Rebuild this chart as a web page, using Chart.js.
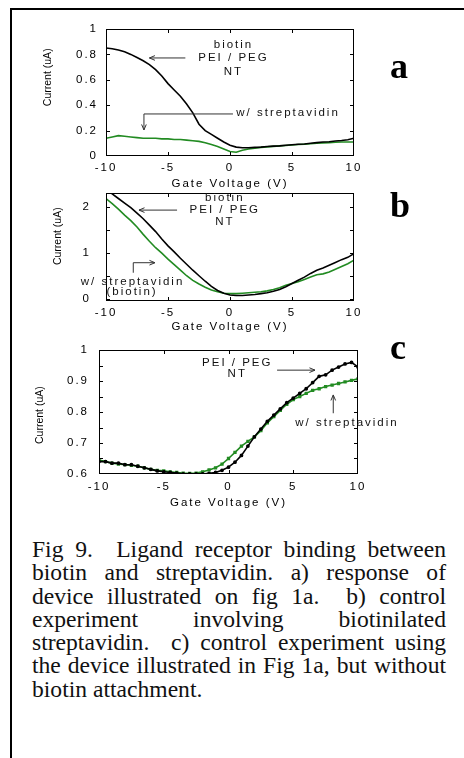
<!DOCTYPE html>
<html>
<head>
<meta charset="utf-8">
<script src="https://cdn.jsdelivr.net/npm/chart.js@4.4.0/dist/chart.umd.min.js"></script>
<style>
  body { margin: 0; background: #fff; width: 464px; height: 758px; position: relative; overflow: hidden; }
  canvas { position: absolute; left: 0; }
  .frameTop { position: absolute; left: 10px; top: 8px; width: 454px; border-top: 2px solid #000; }
  .frameLeft { position: absolute; left: 10px; top: 8px; height: 750px; border-left: 2px solid #000; }
  .tag { position: absolute; left: 390px; font: bold 36px/36px 'Liberation Serif', 'Times New Roman', serif; color: #000; }
  .caption { position: absolute; left: 32px; top: 538px; width: 414px; font-family: 'Liberation Serif', 'Times New Roman', serif; font-size: 23.6px; line-height: 23.3px; color: #111; }
  .caption div { text-align: justify; text-align-last: justify; height: 23.3px; }
  .caption div.last { text-align: left; text-align-last: left; }
</style>
</head>
<body>
<div class="frameTop"></div>
<div class="frameLeft"></div>

<canvas id="chartA" width="464" height="186" style="top:14px"></canvas>
<canvas id="chartB" width="464" height="152" style="top:183px"></canvas>
<canvas id="chartC" width="464" height="176" style="top:335px"></canvas>

<div class="tag" style="top:48px">a</div>
<div class="tag" style="top:186.5px">b</div>
<div class="tag" style="top:329px">c</div>

<div class="caption">
  <div>Fig 9.&nbsp; Ligand receptor binding between</div>
  <div>biotin and streptavidin. a) response of</div>
  <div>device illustrated on fig 1a.&nbsp; b) control</div>
  <div>experiment involving biotinilated</div>
  <div>streptavidin.&nbsp; c) control experiment using</div>
  <div>the device illustrated in Fig 1a, but without</div>
  <div class="last">biotin attachment.</div>
</div>

<script>
// gate voltage sweep (V)
const volts = [-10, -9.5, -9, -8.5, -8, -7.5, -7, -6.5, -6, -5.5, -5, -4.5, -4, -3.5, -3, -2.5, -2, -1.5, -1, -0.5,
  0, 0.5, 1, 1.5, 2, 2.5, 3, 3.5, 4, 4.5, 5, 5.5, 6, 6.5, 7, 7.5, 8, 8.5, 9, 9.5, 10];

// panel a: biotin / PEI / PEG / NT vs. with streptavidin (uA)
const a_biotin = [0.85, 0.845, 0.835, 0.82, 0.80, 0.775, 0.75, 0.72, 0.68, 0.63, 0.57, 0.52, 0.47, 0.41, 0.34, 0.25, 0.20, 0.17, 0.14, 0.11,
  0.085, 0.07, 0.065, 0.065, 0.068, 0.07, 0.075, 0.078, 0.08, 0.085, 0.088, 0.092, 0.095, 0.10, 0.105, 0.11, 0.112, 0.118, 0.122, 0.128, 0.14];
const a_strep = [0.14, 0.15, 0.16, 0.155, 0.15, 0.145, 0.14, 0.14, 0.14, 0.135, 0.135, 0.13, 0.13, 0.125, 0.12, 0.115, 0.105, 0.09, 0.075, 0.055,
  0.035, 0.03, 0.045, 0.055, 0.062, 0.068, 0.072, 0.076, 0.08, 0.083, 0.087, 0.09, 0.093, 0.097, 0.10, 0.103, 0.105, 0.108, 0.11, 0.11, 0.11];

// panel b: control, biotinilated streptavidin (uA)
const b_biotin = [2.40, 2.28, 2.18, 2.08, 1.98, 1.86, 1.74, 1.60, 1.46, 1.30, 1.15, 1.02, 0.88, 0.75, 0.62, 0.50, 0.38, 0.27, 0.18, 0.12,
  0.08, 0.07, 0.07, 0.08, 0.09, 0.11, 0.13, 0.16, 0.20, 0.26, 0.33, 0.40, 0.47, 0.55, 0.62, 0.67, 0.73, 0.79, 0.85, 0.90, 0.98];
const b_strep = [2.18, 2.07, 1.95, 1.82, 1.70, 1.56, 1.40, 1.25, 1.11, 0.99, 0.86, 0.74, 0.62, 0.50, 0.40, 0.32, 0.25, 0.19, 0.15, 0.12,
  0.11, 0.11, 0.12, 0.13, 0.14, 0.15, 0.17, 0.20, 0.24, 0.29, 0.33, 0.37, 0.42, 0.47, 0.52, 0.54, 0.58, 0.64, 0.70, 0.76, 0.84];

// panel c: PEI / PEG / NT without biotin (uA)
const c_nt = [0.64, 0.64, 0.635, 0.635, 0.63, 0.63, 0.625, 0.62, 0.615, 0.61, 0.607, 0.605, 0.603, 0.60, 0.60, 0.60, 0.60, 0.602, 0.605, 0.612,
  0.622, 0.638, 0.66, 0.69, 0.72, 0.745, 0.77, 0.79, 0.81, 0.83, 0.845, 0.86, 0.875, 0.895, 0.915, 0.92, 0.935, 0.945, 0.955, 0.96, 0.945];
const c_strep = [0.645, 0.64, 0.635, 0.632, 0.63, 0.628, 0.625, 0.62, 0.615, 0.612, 0.61, 0.607, 0.605, 0.603, 0.602, 0.603, 0.607, 0.613, 0.62, 0.632,
  0.65, 0.67, 0.69, 0.705, 0.72, 0.74, 0.765, 0.785, 0.805, 0.825, 0.84, 0.85, 0.86, 0.87, 0.875, 0.882, 0.887, 0.892, 0.897, 0.902, 0.907];

// axis ticks
const xTicks = [-10, -5, 0, 5, 10];
const aTicks = [0, 0.2, 0.4, 0.6, 0.8, 1];
const bTicks = [0, 0.5, 1, 1.5, 2];
const cTicks = [0.6, 0.65, 0.7, 0.75, 0.8, 0.85, 0.9, 0.95, 1];

const SANS = "'Liberation Sans', Arial, Helvetica, sans-serif";
const GREEN = '#228b22';

Chart.defaults.color = '#000';
Chart.defaults.font.family = SANS;
Chart.defaults.font.size = 11.5;

function pts(ys) {
  return volts.map((v, i) => ({ x: v, y: ys[i] }));
}

function roundLabel(v) {
  return String(Math.round(v * 10) / 10);
}

// box, inward ticks, y title, notes and arrows
const panelDecor = {
  id: 'panelDecor',
  beforeDraw(chart) {
    chart.ctx.letterSpacing = '2px';
  },
  afterDraw(chart, args, opts) {
    const { ctx, chartArea: a, scales: { x, y } } = chart;
    ctx.save();
    ctx.strokeStyle = '#000';
    ctx.lineWidth = 1;
    ctx.strokeRect(a.left + 0.5, a.top + 0.5, a.right - a.left - 1, a.bottom - a.top - 1);

    ctx.beginPath();
    x.ticks.forEach(t => {
      if (t.value <= x.min || t.value >= x.max) return;
      const px = Math.round(x.getPixelForValue(t.value)) + 0.5;
      ctx.moveTo(px, a.top); ctx.lineTo(px, a.top + 4);
      ctx.moveTo(px, a.bottom); ctx.lineTo(px, a.bottom - 4);
    });
    y.ticks.forEach(t => {
      if (t.value <= y.min || t.value >= y.max) return;
      const py = Math.round(y.getPixelForValue(t.value)) + 0.5;
      ctx.moveTo(a.left, py); ctx.lineTo(a.left + 4, py);
      ctx.moveTo(a.right, py); ctx.lineTo(a.right - 4, py);
    });
    ctx.stroke();

    // y axis title, narrow face, no spacing
    ctx.save();
    ctx.letterSpacing = '0px';
    ctx.font = "10.5px 'Liberation Sans Narrow', 'Arial Narrow', " + SANS;
    ctx.fillStyle = '#000';
    ctx.translate(opts.titleX, y.getPixelForValue(opts.titleAt));
    ctx.rotate(-Math.PI / 2);
    ctx.textAlign = 'center';
    ctx.textBaseline = 'middle';
    ctx.fillText('Current (uA)', 0, 0);
    ctx.restore();

    // notes
    ctx.letterSpacing = '2px';
    ctx.font = '11.5px ' + SANS;
    ctx.fillStyle = '#111';
    ctx.textAlign = 'center';
    ctx.textBaseline = 'middle';
    opts.notes.forEach(n => {
      ctx.fillText(n.text, x.getPixelForValue(n.x) + 1, y.getPixelForValue(n.y));
    });

    // arrows (head at last point)
    ctx.strokeStyle = '#333';
    opts.arrows.forEach(path => {
      const p = path.map(q => [x.getPixelForValue(q[0]), y.getPixelForValue(q[1])]);
      ctx.beginPath();
      ctx.moveTo(p[0][0], p[0][1]);
      for (let i = 1; i < p.length; i++) ctx.lineTo(p[i][0], p[i][1]);
      const [x1, y1] = p[p.length - 2];
      const [x2, y2] = p[p.length - 1];
      const ang = Math.atan2(y2 - y1, x2 - x1);
      ctx.moveTo(x2, y2);
      ctx.lineTo(x2 - 6 * Math.cos(ang - 0.4), y2 - 6 * Math.sin(ang - 0.4));
      ctx.moveTo(x2, y2);
      ctx.lineTo(x2 - 6 * Math.cos(ang + 0.4), y2 - 6 * Math.sin(ang + 0.4));
      ctx.stroke();
    });
    ctx.restore();
  }
};

function makePanel(id, black, green, cfg) {
  return new Chart(document.getElementById(id), {
    type: 'line',
    data: {
      datasets: [{
        label: 'NT',
        data: pts(black),
        borderColor: '#000',
        backgroundColor: '#000',
        borderWidth: 1.6,
        pointRadius: cfg.dots ? 1.1 : 0,
        tension: 0
      }, {
        label: 'w/ streptavidin',
        data: pts(green),
        borderColor: GREEN,
        backgroundColor: cfg.dots ? '#6fbf6f' : GREEN,
        borderWidth: 1.6,
        pointRadius: cfg.dots ? 1.2 : 0,
        pointStyle: 'rect',
        tension: 0
      }]
    },
    options: {
      responsive: false,
      animation: false,
      layout: { padding: { left: 0, top: cfg.top, right: cfg.right, bottom: 0 } },
      plugins: {
        legend: { display: false },
        tooltip: { enabled: false },
        panelDecor: { titleX: cfg.titleX, titleAt: cfg.titleAt, notes: cfg.notes, arrows: cfg.arrows }
      },
      scales: {
        x: {
          type: 'linear',
          bounds: 'data',
          min: -10,
          max: 10,
          afterBuildTicks: s => { s.ticks = xTicks.map(v => ({ value: v })); },
          ticks: { padding: cfg.xPad, autoSkip: false, maxRotation: 0 },
          grid: { display: false, drawTicks: false },
          border: { display: false },
          title: { display: true, text: 'Gate Voltage (V)', padding: { top: 0, bottom: cfg.titlePad } },
          afterFit: s => { s.height = cfg.xHeight; s.paddingLeft = 0; s.paddingRight = 0; }
        },
        y: {
          type: 'linear',
          bounds: 'data',
          min: cfg.yMin,
          max: cfg.yMax,
          afterBuildTicks: s => { s.ticks = cfg.yTicks.map(v => ({ value: v })); },
          ticks: { padding: cfg.yPad, autoSkip: false, callback: cfg.label },
          grid: { display: false, drawTicks: false },
          border: { display: false },
          afterFit: s => { s.width = cfg.yWidth; s.paddingTop = 0; s.paddingBottom = 0; }
        }
      }
    },
    plugins: [panelDecor]
  });
}

const chartA = makePanel('chartA', a_biotin, a_strep, {
  top: 15, right: 110, yWidth: 106, xHeight: 44, xPad: 5, yPad: 8, titlePad: 9,
  yMin: 0, yMax: 1, yTicks: aTicks, label: v => roundLabel(v),
  titleX: 48, titleAt: 0.62,
  notes: [
    { text: 'biotin', x: 0.2, y: 0.874 },
    { text: 'PEI / PEG', x: 0.2, y: 0.772 },
    { text: 'NT', x: 0.2, y: 0.661 },
    { text: 'w/ streptavidin', x: 4.6, y: 0.339 }
  ],
  arrows: [
    [[-3.6, 0.772], [-6.5, 0.772]],
    [[0.24, 0.331], [-6.94, 0.331], [-6.94, 0.205]]
  ]
});

const chartB = makePanel('chartB', b_biotin, b_strep, {
  top: 10, right: 110, yWidth: 106, xHeight: 34, xPad: 5, yPad: 15, titlePad: 1.4,
  yMin: -0.05, yMax: 2.3, yTicks: bTicks,
  label: v => (Math.abs(v - Math.round(v)) < 1e-6 ? String(Math.round(v)) : ''),
  titleX: 58, titleAt: 1.36,
  notes: [
    { text: 'biotin', x: -0.5, y: 2.204 },
    { text: 'PEI / PEG', x: -0.5, y: 1.928 },
    { text: 'NT', x: -0.5, y: 1.667 },
    { text: 'w/ streptavidin', x: -7.94, y: 0.37 },
    { text: '(biotin)', x: -7.98, y: 0.139 }
  ],
  arrows: [
    [[-4.27, 1.928], [-7.34, 1.928]],
    [[-7.8, 0.565], [-7.8, 0.783], [-6.05, 0.783]]
  ]
});

const chartC = makePanel('chartC', c_nt, c_strep, {
  top: 15, right: 106, yWidth: 99, xHeight: 37, xPad: 6, yPad: 10, titlePad: 1.1, dots: true,
  yMin: 0.6, yMax: 1, yTicks: cTicks,
  label: v => (Math.round(v * 100) % 10 === 0 ? roundLabel(v) : ''),
  titleX: 40, titleAt: 0.79,
  notes: [
    { text: 'PEI / PEG', x: 0.6, y: 0.96 },
    { text: 'NT', x: 0.6, y: 0.922 },
    { text: 'w/ streptavidin', x: 9.07, y: 0.7635 }
  ],
  arrows: [
    [[3.75, 0.935], [6.68, 0.935]],
    [[8.09, 0.796], [8.09, 0.855]]
  ]
});
</script>
</body>
</html>
